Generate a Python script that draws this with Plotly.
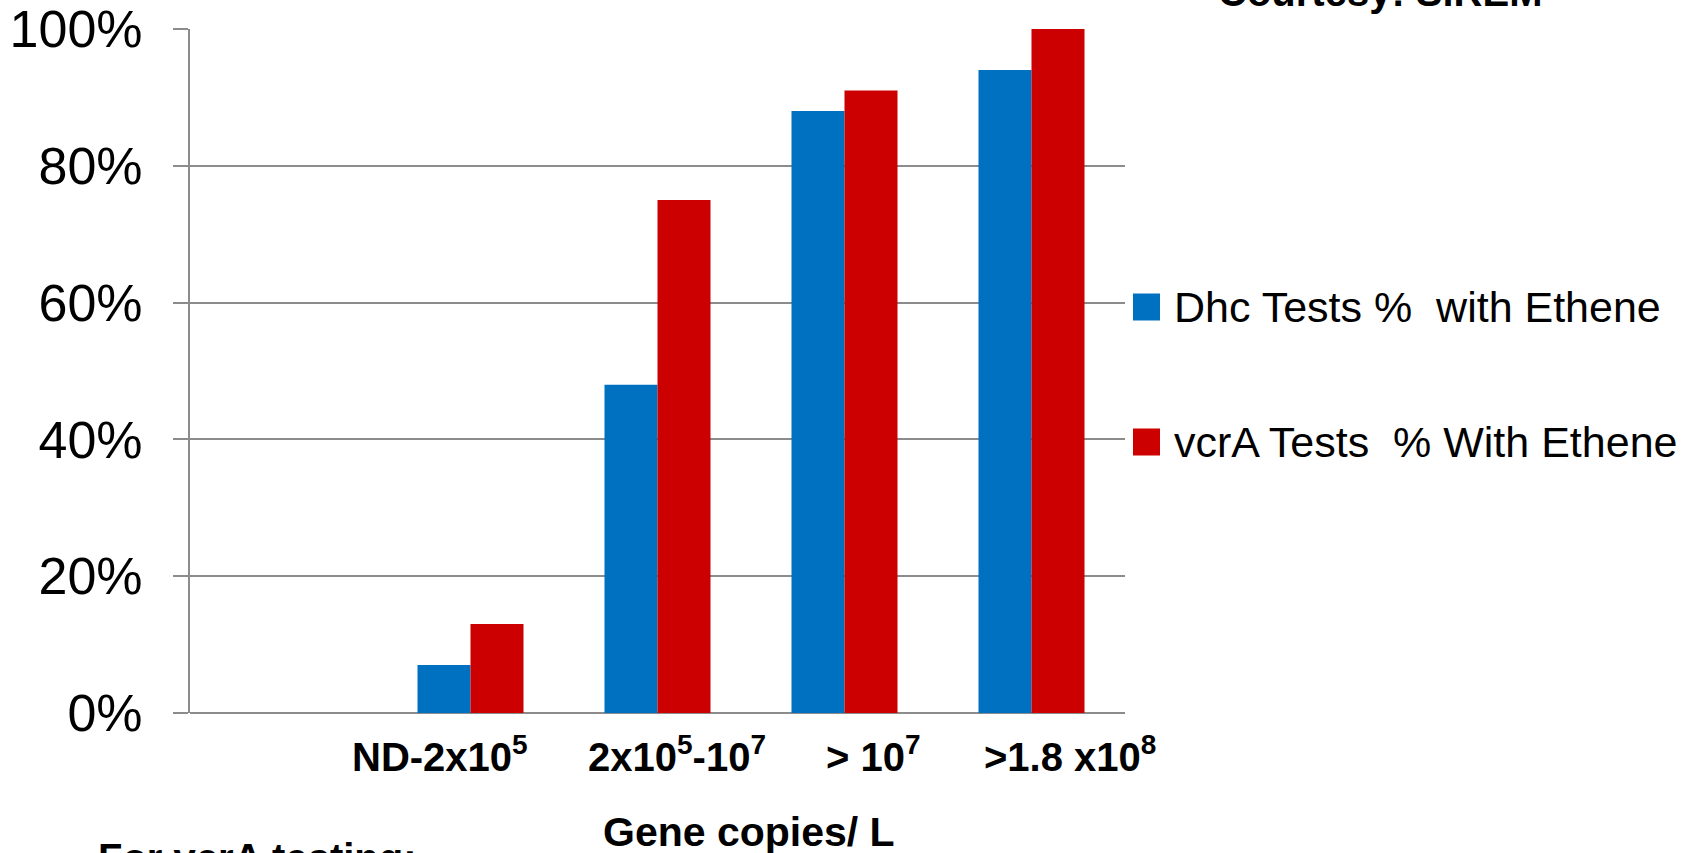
import plotly.graph_objects as go

# Gene copy ranges (first slot is an empty category on the axis)
categories = ["", "ND-2x10<sup>5</sup>", "2x10<sup>5</sup>-10<sup>7</sup>",
              "> 10<sup>7</sup>", ">1.8 x10<sup>8</sup>"]
dhc_pct = [None, 7, 48, 88, 94]
vcra_pct = [None, 13, 75, 91, 100]
series_names = ["Dhc Tests %\u00a0\u00a0with Ethene", "vcrA Tests\u00a0\u00a0% With Ethene"]
y_ticks = [0, 20, 40, 60, 80, 100]
y_tick_text = [f"{v}%" for v in y_ticks]

BLUE = "#0070C0"
RED = "#CC0000"
GRID = "#8C8C8C"
FONT = "Liberation Sans, Arial, sans-serif"

W, H = 1700, 853
L, R, T, B = 190, 575, 29, 140
PW, PH = W - L - R, H - T - B


def px_x(px):
    return (px - L) / PW


def px_y(py):
    return (H - B - py) / PH


xpos = list(range(len(categories)))

fig = go.Figure()
fig.add_trace(go.Bar(x=xpos, y=dhc_pct, name=series_names[0],
                     marker=dict(color=BLUE, line=dict(width=0))))
fig.add_trace(go.Bar(x=xpos, y=vcra_pct, name=series_names[1],
                     marker=dict(color=RED, line=dict(width=0))))

annotations = []
# category labels under the bars
label_shift = [0, -31, 19, 29, 38]
for i, lab in enumerate(categories):
    if not lab:
        continue
    annotations.append(dict(
        x=xpos[i], xref="x", y=0, yref="paper", yanchor="top",
        xanchor="center", xshift=label_shift[i], yshift=-14,
        text=f"<b>{lab}</b>", showarrow=False,
        font=dict(family=FONT, size=40, color="black")))

# axis title and side notes
annotations.append(dict(x=px_x(749), xref="paper", y=px_y(832), yref="paper",
                        text="<b>Gene copies/ L</b>", showarrow=False,
                        xanchor="center", yanchor="middle",
                        font=dict(family=FONT, size=41, color="black")))
annotations.append(dict(x=px_x(1380), xref="paper", y=px_y(-8), yref="paper",
                        text="<b>Courtesy: SiREM</b>", showarrow=False,
                        xanchor="center", yanchor="middle",
                        font=dict(family=FONT, size=40, color="black")))
annotations.append(dict(x=px_x(96), xref="paper", y=px_y(858), yref="paper",
                        text="<b>For vcrA testing:</b>", showarrow=False,
                        xanchor="left", yanchor="middle",
                        font=dict(family=FONT, size=40, color="black")))

# legend drawn as swatches with text beside them
shapes = []
legend_rows = [(series_names[0], BLUE, 307), (series_names[1], RED, 442)]
for name, color, cy in legend_rows:
    shapes.append(dict(type="rect", xref="paper", yref="paper",
                       x0=px_x(1133), x1=px_x(1160),
                       y0=px_y(cy + 13.5), y1=px_y(cy - 13.5),
                       fillcolor=color, line=dict(width=0)))
    annotations.append(dict(x=px_x(1172), xref="paper", y=px_y(cy), yref="paper",
                            text=name, showarrow=False,
                            xanchor="left", yanchor="middle",
                            font=dict(family=FONT, size=43, color="black")))

fig.update_layout(
    width=W, height=H,
    margin=dict(l=L, r=R, t=T, b=B, pad=0, autoexpand=False),
    paper_bgcolor="white", plot_bgcolor="white",
    barmode="group", bargap=0.433, bargroupgap=0,
    showlegend=False,
    annotations=annotations, shapes=shapes,
    font=dict(family=FONT, color="black"),
)
fig.update_xaxes(range=[-0.5, len(categories) - 0.5], showticklabels=False,
                 showgrid=False, zeroline=False, showline=False, ticks="",
                 automargin=False)
fig.update_yaxes(range=[0, 100], tickmode="array", tickvals=y_ticks,
                 ticktext=y_tick_text, automargin=False,
                 ticklabeloverflow="allow",
                 showgrid=True, gridcolor=GRID, gridwidth=2,
                 zeroline=True, zerolinecolor=GRID, zerolinewidth=2,
                 showline=True, linecolor=GRID, linewidth=2,
                 ticks="outside", ticklen=15, tickwidth=2, tickcolor=GRID,
                 ticklabelstandoff=20,
                 tickfont=dict(family=FONT, size=52, color="black"))

fig.write_html("out.html")
